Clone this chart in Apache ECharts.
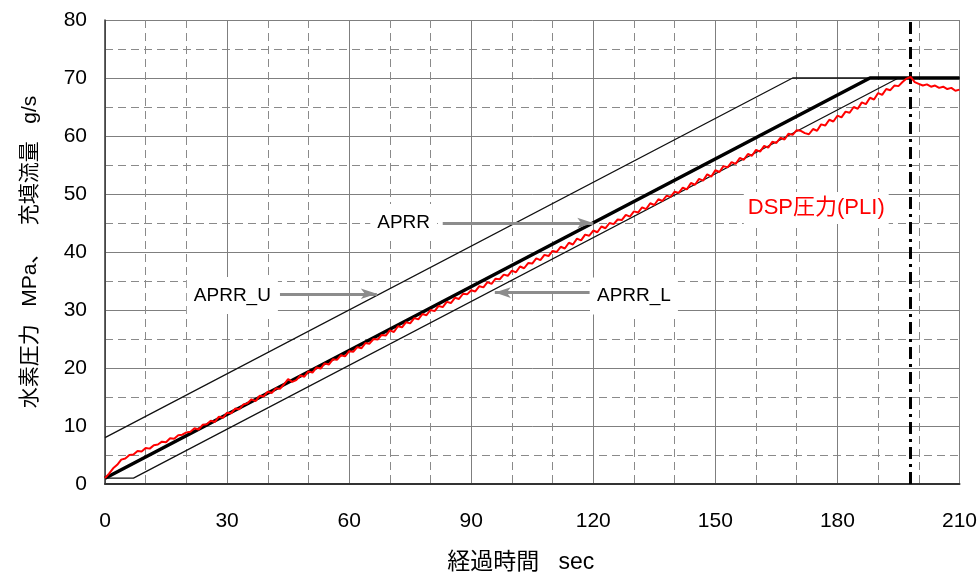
<!DOCTYPE html>
<html>
<head>
<meta charset="utf-8">
<script src="https://cdn.jsdelivr.net/npm/echarts@6/dist/echarts.min.js"></script>
<style>
  html, body { margin: 0; padding: 0; background: #fff; }
  #chart { width: 980px; height: 579px; }
</style>
</head>
<body>
<div id="chart"></div>
<script>
// Filling profile: target pressure ramp (APRR), its upper/lower tolerance band,
// and the measured DSP pressure, sampled once per second.
const aprrTime  = [0, 188, 210];
const aprrValue = [1, 70, 70];
const aprrUTime  = [0, 169, 210];
const aprrUValue = [8, 70, 70];
const aprrLTime  = [0, 7, 195, 210];
const aprrLValue = [1, 1, 70, 70];

// DSP pressure (MPa), one value per second from 0 to 210 s
const dspPressure = [
  1.0, 1.8, 2.7, 3.3, 4.2, 4.4, 5.0, 5.1, 5.7, 5.6,
  6.2, 6.1, 6.7, 6.8, 7.3, 7.2, 7.9, 7.8, 8.4, 8.5,
  8.9, 9.0, 9.6, 9.4, 10.2, 10.3, 10.9, 10.7, 11.6, 11.4,
  12.3, 12.2, 13.0, 12.9, 13.7, 13.9, 14.6, 14.3, 15.2, 15.1,
  15.9, 15.7, 16.5, 16.4, 17.2, 18.1, 17.6, 17.9, 18.7, 18.5,
  19.4, 19.2, 20.1, 19.9, 20.8, 20.6, 21.5, 21.4, 22.2, 22.0,
  22.9, 22.8, 23.6, 23.4, 24.3, 24.2, 25.0, 24.9, 25.7, 25.6,
  26.5, 26.2, 27.2, 27.0, 27.9, 27.7, 28.6, 28.4, 29.3, 29.1,
  30.0, 29.8, 30.7, 30.5, 31.4, 31.2, 32.1, 31.9, 32.8, 32.7,
  33.4, 33.2, 34.1, 33.9, 34.8, 34.5, 35.4, 35.3, 36.1, 35.9,
  36.8, 36.5, 37.5, 37.2, 38.1, 38.0, 38.9, 38.6, 39.5, 39.3,
  40.2, 40.0, 40.9, 40.6, 41.6, 41.3, 42.3, 42.0, 43.0, 42.8,
  43.7, 43.4, 44.4, 44.1, 45.0, 44.8, 45.6, 45.5, 46.4, 46.1,
  47.0, 46.8, 47.7, 47.4, 48.4, 48.1, 49.1, 48.8, 49.7, 49.5,
  50.4, 50.2, 51.1, 50.8, 51.9, 51.6, 52.6, 52.3, 53.4, 53.0,
  54.1, 53.8, 54.8, 54.6, 55.5, 55.2, 56.2, 55.9, 56.9, 56.6,
  57.6, 57.3, 58.3, 58.0, 59.0, 58.8, 59.7, 59.4, 60.4, 60.2,
  61.0, 60.9, 60.5, 60.3, 61.2, 60.9, 62.0, 61.8, 62.8, 62.5,
  63.5, 63.2, 64.2, 64.0, 65.0, 64.7, 65.8, 65.5, 66.6, 66.3,
  67.4, 67.1, 68.1, 67.9, 68.7, 68.6, 69.3, 69.9, 70.2, 69.3,
  69.0, 68.7, 68.9, 68.5, 68.7, 68.3, 68.5, 68.1, 68.3, 67.8,
  68.0
];

// Time of the end-of-fill marker (s)
const endOfFillTime = 198;

// Text annotations: [time, value, text]
const annotations = [
  [73.4, 45.1, 'APRR'],
  [31.3, 32.5, 'APRR_U'],
  [130.0, 32.4, 'APRR_L']
];
const dspLabel = [174.8, 47.6, 'DSP圧力(PLI)'];

// Pointer arrows: [fromTime, fromValue, toTime, toValue]
const arrows = [
  [83.0, 45.0, 120.0, 45.0],
  [43.0, 32.8, 66.8, 32.8],
  [119.1, 33.0, 95.8, 33.0]
];

const xTicks = [0, 30, 60, 90, 120, 150, 180, 210];
const yTicks = [0, 10, 20, 30, 40, 50, 60, 70, 80];

const FONT = "'Liberation Sans', Arial, 'Noto Sans CJK JP', sans-serif";

function pairs(xs, ys) { return xs.map((x, i) => [x, ys[i]]); }

const chart = echarts.init(document.getElementById('chart'), null, { renderer: 'canvas' });

const gridLine = { color: '#7f7f7f', width: 1 };
const minorLine = { color: '#8a8a8a', width: 1, type: [8, 5] };

chart.setOption({
  backgroundColor: '#fff',
  animation: false,
  grid: { left: 105, right: 20, top: 20, bottom: 91, containLabel: false },
  xAxis: {
    type: 'value',
    min: xTicks[0], max: xTicks[xTicks.length - 1], interval: 30,
    name: '経過時間   sec',
    nameLocation: 'middle',
    nameGap: 67,
    nameTextStyle: { fontFamily: FONT, fontSize: 23, color: '#000', padding: [0, 23, 0, 0] },
    axisLine: { show: true, onZero: false, lineStyle: { color: '#333', width: 2 } },
    axisTick: { show: false },
    axisLabel: { fontFamily: FONT, fontSize: 21, color: '#000', margin: 27 },
    splitLine: { show: true, lineStyle: gridLine },
    minorTick: { show: false, splitNumber: 3 },
    minorSplitLine: { show: true, lineStyle: minorLine }
  },
  yAxis: {
    type: 'value',
    min: yTicks[0], max: yTicks[yTicks.length - 1], interval: 10,
    name: '水素圧力   MPa、   充填流量   g/s',
    nameLocation: 'middle',
    nameGap: 64,
    nameTextStyle: { fontFamily: FONT, fontSize: 21, color: '#000' },
    axisLine: { show: true, onZero: false, lineStyle: { color: '#333', width: 1.5 } },
    axisTick: { show: false },
    axisLabel: { fontFamily: FONT, fontSize: 21, color: '#000', margin: 18 },
    splitLine: { show: true, lineStyle: gridLine },
    minorTick: { show: false, splitNumber: 2 },
    minorSplitLine: { show: true, lineStyle: minorLine }
  },
  series: [
    {
      name: 'APRR_U', type: 'line', data: pairs(aprrUTime, aprrUValue),
      symbol: 'none', lineStyle: { color: '#111', width: 1.3 }, z: 3
    },
    {
      name: 'APRR_L', type: 'line', data: pairs(aprrLTime, aprrLValue),
      symbol: 'none', lineStyle: { color: '#111', width: 1.3 }, z: 3
    },
    {
      name: 'APRR', type: 'line', data: pairs(aprrTime, aprrValue),
      symbol: 'none', lineStyle: { color: '#000', width: 3.5 }, z: 4
    },
    {
      name: 'DSP', type: 'line', data: dspPressure.map((v, i) => [i, v]),
      symbol: 'none', lineStyle: { color: '#ff0000', width: 2 }, z: 5
    },
    {
      name: 'marker', type: 'line', data: [], z: 6,
      markLine: {
        silent: true, symbol: ['none', 'none'],
        label: { show: false },
        lineStyle: { color: '#000', width: 3, type: [12, 5, 3, 5] },
        data: [{ xAxis: endOfFillTime }]
      }
    },
    {
      name: 'arrows', type: 'line', data: [], z: 7,
      markLine: {
        silent: true, symbol: ['none', 'arrow'], symbolSize: [8, 16],
        label: { show: false },
        lineStyle: { color: '#8c8c8c', width: 3, type: 'solid' },
        data: arrows.map(a => [{ coord: [a[0], a[1]] }, { coord: [a[2], a[3]] }])
      }
    },
    {
      name: 'notes', type: 'scatter', z: 8, symbolSize: 0, silent: true,
      itemStyle: { opacity: 1 },
      data: annotations.map(a => ({ value: [a[0], a[1]], text: a[2] })),
      label: {
        show: true, position: 'inside', opacity: 1,
        formatter: p => p.data.text,
        fontFamily: FONT, fontSize: 19, color: '#000',
        backgroundColor: '#fff', padding: [9, 7]
      }
    },
    {
      name: 'dspNote', type: 'scatter', z: 8, symbolSize: 0, silent: true,
      itemStyle: { opacity: 1 },
      data: [{ value: [dspLabel[0], dspLabel[1]], text: dspLabel[2] }],
      label: {
        show: true, position: 'inside', opacity: 1,
        formatter: p => p.data.text,
        fontFamily: FONT, fontSize: 22, color: '#ff0000',
        backgroundColor: '#fff', padding: [5, 4]
      }
    }
  ]
});
</script>
</body>
</html>
